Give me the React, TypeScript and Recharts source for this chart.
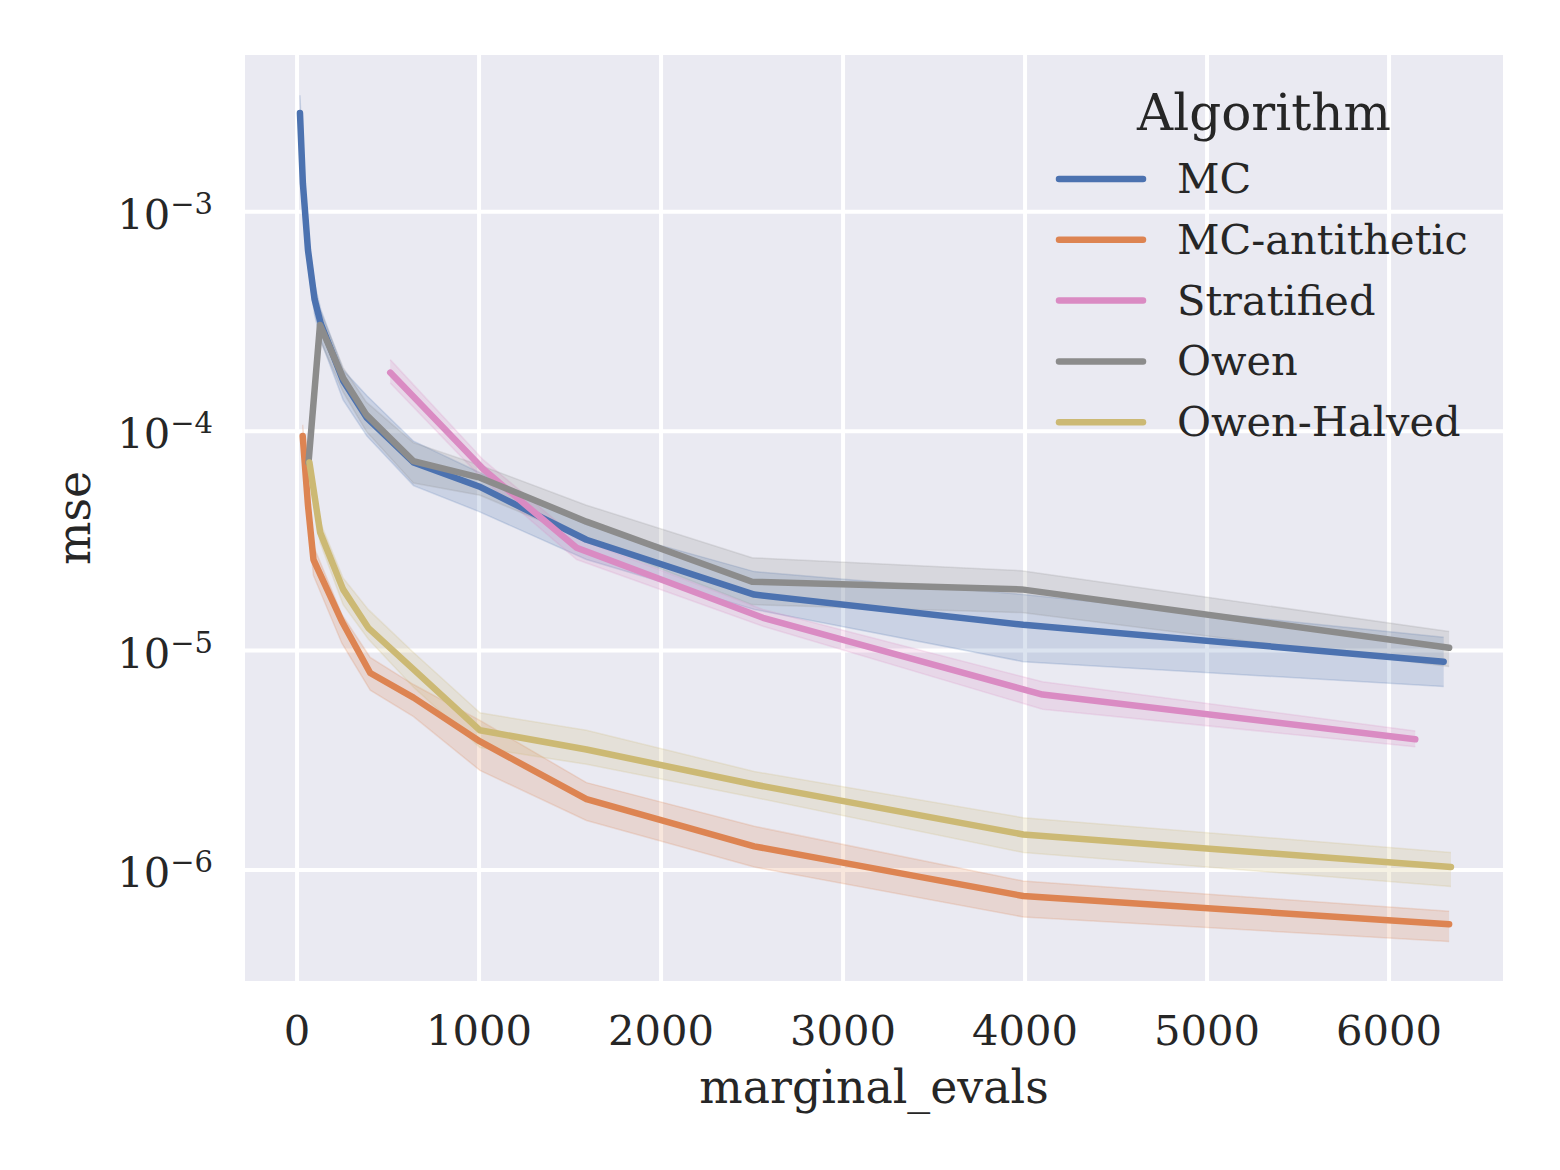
import React from 'react';
import { ComposedChart, Line, Area, XAxis, YAxis, CartesianGrid, Legend, Label } from 'recharts';

// evaluations / mean mse / lower and upper band
const MC_X = [16, 32, 60, 96, 130, 253, 384, 640, 1000, 1590, 2512, 3990, 6300];
const MC_Y = [2.82e-3, 1.35e-3, 6.7e-4, 4.0e-4, 3.1e-4, 1.7e-4, 1.15e-4, 7.2e-5, 5.6e-5, 3.2e-5, 1.8e-5, 1.31e-5, 8.9e-6];
const MC_LO = [2.4e-3, 1.15e-3, 5.7e-4, 3.4e-4, 2.6e-4, 1.39e-4, 9.5e-5, 5.65e-5, 4.3e-5, 2.6e-5, 1.54e-5, 8.9e-6, 6.85e-6];
const MC_HI = [3.4e-3, 1.6e-3, 7.8e-4, 4.7e-4, 3.6e-4, 1.9e-4, 1.45e-4, 9.0e-5, 6.5e-5, 3.75e-5, 2.29e-5, 1.8e-5, 1.15e-5];

const ANTI_X = [31, 60, 90, 246, 402, 640, 1005, 1590, 2512, 3990, 6330];
const ANTI_Y = [9.5e-5, 4.6e-5, 2.6e-5, 1.36e-5, 7.9e-6, 6.1e-6, 3.85e-6, 2.1e-6, 1.28e-6, 7.6e-7, 5.65e-7];
const ANTI_LO = [8.0e-5, 3.9e-5, 2.2e-5, 1.08e-5, 6.6e-6, 5.0e-6, 2.84e-6, 1.68e-6, 1.03e-6, 6.1e-7, 4.72e-7];
const ANTI_HI = [1.07e-4, 5.3e-5, 3.0e-5, 1.46e-5, 9.3e-6, 7.0e-6, 4.8e-6, 2.5e-6, 1.58e-6, 8.9e-7, 6.47e-7];

const STRAT_X = [512, 1024, 1536, 2560, 4096, 6144];
const STRAT_Y = [1.85e-4, 6.7e-5, 2.94e-5, 1.41e-5, 6.3e-6, 3.94e-6];
const STRAT_LO = [1.66e-4, 6.0e-5, 2.6e-5, 1.29e-5, 5.4e-6, 3.64e-6];
const STRAT_HI = [2.12e-4, 7.4e-5, 3.26e-5, 1.54e-5, 7.2e-6, 4.3e-6];

const OWEN_X = [63, 126, 253, 380, 639, 1005, 1590, 2500, 3981, 6330];
const OWEN_Y = [7.2e-5, 3.05e-4, 1.75e-4, 1.19e-4, 7.3e-5, 6.14e-5, 3.87e-5, 2.06e-5, 1.9e-5, 1.03e-5];
const OWEN_LO = [6.4e-5, 2.6e-4, 1.51e-4, 1.0e-4, 5.8e-5, 5.1e-5, 3.2e-5, 1.62e-5, 1.49e-5, 8.45e-6];
const OWEN_HI = [8.1e-5, 3.57e-4, 1.95e-4, 1.36e-4, 8.87e-5, 7.0e-5, 4.6e-5, 2.65e-5, 2.31e-5, 1.22e-5];

const HALF_X = [68, 127, 253, 391, 640, 1005, 1590, 2512, 3990, 6340];
const HALF_Y = [7.2e-5, 3.45e-5, 1.9e-5, 1.27e-5, 8.2e-6, 4.33e-6, 3.54e-6, 2.45e-6, 1.45e-6, 1.03e-6];
const HALF_LO = [6.5e-5, 3.1e-5, 1.62e-5, 1.13e-5, 6.8e-6, 3.61e-6, 3.03e-6, 2.14e-6, 1.2e-6, 8.4e-7];
const HALF_HI = [7.9e-5, 3.85e-5, 2.14e-5, 1.54e-5, 9.8e-6, 5.2e-6, 4.33e-6, 2.81e-6, 1.73e-6, 1.2e-6];

const X_TICKS = [0, 1000, 2000, 3000, 4000, 5000, 6000];
const Y_TICKS = [1e-6, 1e-5, 1e-4, 1e-3];

const SERIES = [
  { key: 'mc', name: 'MC', color: '#4c72b0', x: MC_X, y: MC_Y, lo: MC_LO, hi: MC_HI },
  { key: 'anti', name: 'MC-antithetic', color: '#dd8452', x: ANTI_X, y: ANTI_Y, lo: ANTI_LO, hi: ANTI_HI },
  { key: 'strat', name: 'Stratified', color: '#da8bc3', x: STRAT_X, y: STRAT_Y, lo: STRAT_LO, hi: STRAT_HI },
  { key: 'owen', name: 'Owen', color: '#8c8c8c', x: OWEN_X, y: OWEN_Y, lo: OWEN_LO, hi: OWEN_HI },
  { key: 'half', name: 'Owen-Halved', color: '#ccb974', x: HALF_X, y: HALF_Y, lo: HALF_LO, hi: HALF_HI },
];

// merge everything into one table keyed by x
const rowMap = new Map<number, any>();
SERIES.forEach((s) => {
  s.x.forEach((xv, i) => {
    const row = rowMap.get(xv) || { x: xv };
    row[s.key] = s.y[i];
    row[s.key + '_band'] = [s.lo[i], s.hi[i]];
    rowMap.set(xv, row);
  });
});
const rows = Array.from(rowMap.values()).sort((a, b) => a.x - b.x);

const FONT = '"DejaVu Serif", serif';
const TEXT = '#262626';
const PLOT_BOTTOM = 983;

const XTick = (props: any) => (
  <text x={props.x} y={PLOT_BOTTOM + 62} textAnchor="middle" fontFamily={FONT} fontSize={41.7} fill={TEXT}>
    {props.payload.value}
  </text>
);

const YTick = (props: any) => {
  const exp = Math.round(Math.log10(props.payload.value));
  return (
    <text x={213} y={props.y + 17} textAnchor="end" fontFamily={FONT} fill={TEXT}>
      <tspan fontSize={41.7}>10</tspan>
      <tspan fontSize={29} dy={-15}>{'\u2212' + Math.abs(exp)}</tspan>
    </text>
  );
};

const LegendBox = () => (
  <svg width={470} height={390}>
    <text x={234} y={60} textAnchor="middle" fontFamily={FONT} fontSize={50} fill={TEXT}>Algorithm</text>
    {SERIES.map((s, i) => (
      <g key={s.key}>
        <line x1={29} x2={113} y1={109 + i * 60.8} y2={109 + i * 60.8} stroke={s.color} strokeWidth={6.5} strokeLinecap="round" />
        <text x={147} y={123 + i * 60.8} fontFamily={FONT} fontSize={41.5} fill={TEXT}>{s.name}</text>
      </g>
    ))}
  </svg>
);

export default function App() {
  return (
    <div style={{ position: 'absolute', left: 0, top: 0, width: 1560, height: 1170, background: '#fff' }}>
      <ComposedChart width={1560} height={1170} data={rows} margin={{ top: 53, right: 55, bottom: 0, left: 0 }}>
        <CartesianGrid fill="#eaeaf2" fillOpacity={1} stroke="#ffffff" strokeWidth={4} />
        <XAxis
          dataKey="x"
          type="number"
          domain={[-297, 6637]}
          ticks={X_TICKS}
          allowDataOverflow
          height={187}
          axisLine={false}
          tickLine={false}
          tick={<XTick />}
        >
          <Label
            content={() => (
              <text x={874} y={1103} textAnchor="middle" fontFamily={FONT} fontSize={45.8} fill={TEXT}>marginal_evals</text>
            )}
          />
        </XAxis>
        <YAxis
          type="number"
          scale="log"
          domain={[3.05e-7, 5.3e-3]}
          ticks={Y_TICKS}
          allowDataOverflow
          width={243}
          axisLine={false}
          tickLine={false}
          tick={<YTick />}
        >
          <Label
            content={() => (
              <text x={90} y={518} transform="rotate(-90 90 518)" textAnchor="middle" fontFamily={FONT} fontSize={45.8} fill={TEXT}>mse</text>
            )}
          />
        </YAxis>
        {SERIES.map((s) => (
          <Area
            key={s.key + '_band'}
            dataKey={s.key + '_band'}
            type="linear"
            connectNulls
            stroke={s.color}
            strokeOpacity={0.2}
            strokeWidth={1.5}
            fill={s.color}
            fillOpacity={0.2}
            dot={false}
            activeDot={false}
            legendType="none"
            isAnimationActive={false}
          />
        ))}
        {SERIES.map((s) => (
          <Line
            key={s.key}
            dataKey={s.key}
            name={s.name}
            type="linear"
            connectNulls
            stroke={s.color}
            strokeWidth={6.5}
            strokeLinecap="round"
            strokeLinejoin="round"
            dot={false}
            activeDot={false}
            isAnimationActive={false}
          />
        ))}
        <Legend
          layout="vertical"
          align="center"
          verticalAlign="middle"
          content={() => <LegendBox />}
          wrapperStyle={{ left: 1030, top: 70, width: 470, height: 390 }}
        />
      </ComposedChart>
    </div>
  );
}
